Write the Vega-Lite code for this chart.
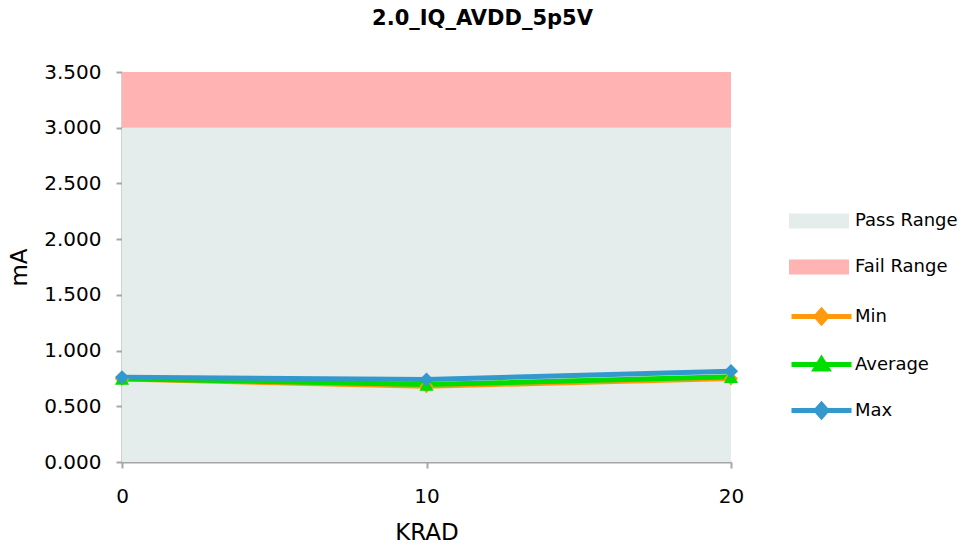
{
  "$schema": "https://vega.github.io/schema/vega-lite/v6.json",
  "width": 609,
  "height": 390,
  "autosize": {"type": "none"},
  "padding": {"left": 122, "top": 72, "right": 234, "bottom": 85},
  "background": "white",
  "title": {
    "text": "2.0_IQ_AVDD_5p5V",
    "fontSize": 21,
    "fontWeight": "bold",
    "font": "DejaVu Sans",
    "color": "#000000",
    "anchor": "middle",
    "dx": 56,
    "offset": 33
  },
  "resolve": {"legend": {"color": "independent"}},
  "config": {
    "view": {"stroke": null},
    "font": "DejaVu Sans",
    "axis": {
      "domainColor": "#A6A6A6",
      "domainWidth": 2,
      "tickColor": "#A6A6A6",
      "tickWidth": 2,
      "tickSize": 6,
      "grid": false,
      "labelColor": "#000000",
      "labelFontSize": 20,
      "labelFlush": false,
      "titleColor": "#000000",
      "titleFontSize": 23,
      "titleFontWeight": "normal"
    },
    "legend": {
      "labelFontSize": 18,
      "labelColor": "#000000",
      "padding": 0,
      "labelOffset": 21,
      "symbolSize": 900,
      "orient": "none"
    }
  },
  "datasets": {
    "ranges": [
      {"range": "Pass Range", "x0": 0, "x1": 20, "y0": 0, "y1": 3.0},
      {"range": "Fail Range", "x0": 0, "x1": 20, "y0": 3.0, "y1": 3.5}
    ],
    "series": [
      {"krad": 0, "series": "Min", "value": 0.745},
      {"krad": 10, "series": "Min", "value": 0.680},
      {"krad": 20, "series": "Min", "value": 0.750},
      {"krad": 0, "series": "Average", "value": 0.748},
      {"krad": 10, "series": "Average", "value": 0.695},
      {"krad": 20, "series": "Average", "value": 0.765},
      {"krad": 0, "series": "Max", "value": 0.760},
      {"krad": 10, "series": "Max", "value": 0.740},
      {"krad": 20, "series": "Max", "value": 0.815}
    ]
  },
  "layer": [
    {
      "data": {"name": "ranges"},
      "mark": {"type": "rect"},
      "encoding": {
        "x": {"field": "x0", "type": "quantitative", "scale": {"domain": [0, 20], "nice": false},
              "axis": {"values": [0, 10, 20], "title": "KRAD", "labelPadding": 18, "titlePadding": 15, "format": "d"}},
        "x2": {"field": "x1"},
        "y": {"field": "y0", "type": "quantitative", "scale": {"domain": [0, 3.5], "nice": false},
              "axis": {"values": [0, 0.5, 1, 1.5, 2, 2.5, 3, 3.5], "format": ".3f", "title": "mA", "labelPadding": 15, "titlePadding": 12}},
        "y2": {"field": "y1"},
        "fill": {
          "field": "range", "type": "nominal",
          "scale": {"domain": ["Pass Range", "Fail Range"], "range": ["#E4ECEC", "#FFB3B3"]},
          "legend": {
            "title": null,
            "legendX": 682,
            "legendY": 134,
            "rowPadding": 22,
            "symbolType": "M-2,-0.5H2V0.5H-2Z",
            "symbolStrokeWidth": 0
          }
        }
      }
    },
    {
      "data": {"name": "series"},
      "mark": {"type": "line", "strokeWidth": 5},
      "encoding": {
        "x": {"field": "krad", "type": "quantitative"},
        "y": {"field": "value", "type": "quantitative"},
        "color": {
          "field": "series", "type": "nominal",
          "scale": {"domain": ["Min", "Average", "Max"], "range": ["#FF9A0E", "#00DD00", "#3399CC"]},
          "legend": {
            "title": null,
            "legendX": 682,
            "legendY": 227,
            "rowPadding": 14,
            "labelOffset": 16,
            "symbolStrokeWidth": 5,
            "symbolType": "M-2,0H2M-0.35,0L0,-0.4L0.35,0L0,0.4Z",
            "encode": {
              "symbols": {
                "update": {
                  "shape": {"signal": "datum.value === 'Average' ? 'M-2,0H2M-0.4,0.3L0,-0.35L0.4,0.3Z' : 'M-2,0H2M-0.35,0L0,-0.4L0.35,0L0,0.4Z'"},
                  "fill": {"signal": "datum.value === 'Min' ? '#FF9A0E' : datum.value === 'Average' ? '#00DD00' : '#3399CC'"},
                  "stroke": {"signal": "datum.value === 'Min' ? '#FF9A0E' : datum.value === 'Average' ? '#00DD00' : '#3399CC'"}
                }
              }
            }
          }
        },
        "order": {"field": "krad"}
      }
    },
    {
      "data": {"name": "series"},
      "mark": {"type": "point", "filled": true, "opacity": 1, "size": 200},
      "encoding": {
        "x": {"field": "krad", "type": "quantitative"},
        "y": {"field": "value", "type": "quantitative"},
        "color": {"field": "series", "type": "nominal", "legend": null},
        "shape": {
          "field": "series", "type": "nominal",
          "scale": {"domain": ["Min", "Average", "Max"], "range": ["diamond", "triangle-up", "diamond"]},
          "legend": null
        }
      }
    }
  ]
}
